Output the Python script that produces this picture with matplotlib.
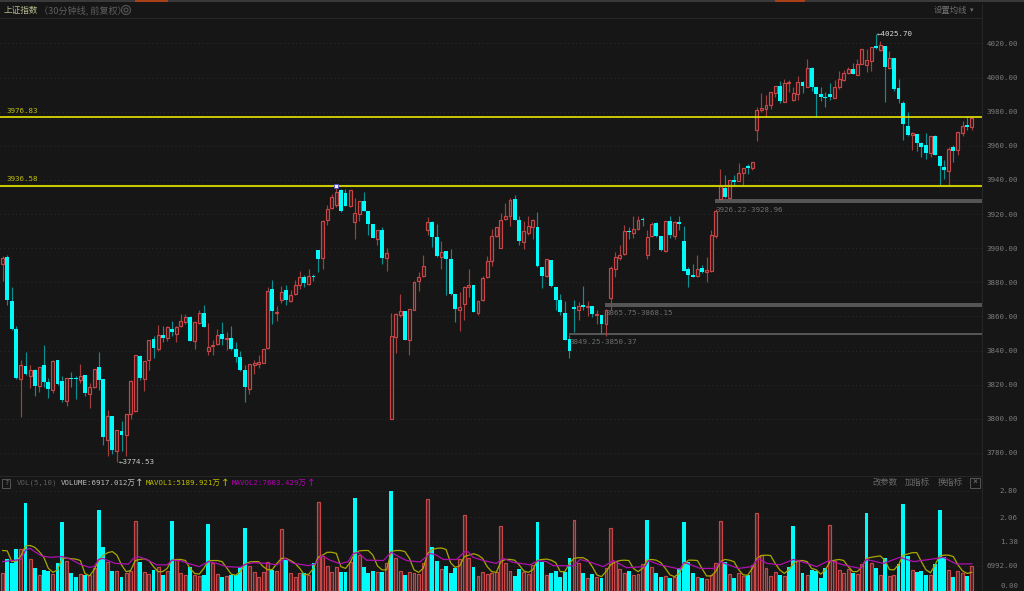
import matplotlib
matplotlib.use('Agg')
import matplotlib.pyplot as plt
import matplotlib.patches as mpatches
import numpy as np

# candle data, 30 minute bars
candle_dir = ('rcccrcrcrc' 'crccrccrcr' 'rccrcrcrrr' 'crrcrcrcrr'
              'rcrrcrrrcr' 'ccccrrrrrc' 'rrcrrrcrcc' 'rrrrccrrrc'
              'ccrcrrrrcr' 'rrrrccrccc' 'rrrcrrrrrr' 'rrccrrrccr'
              'ccccccrcrc' 'rcrrrrrcrr' 'crrccrcrcc' 'ccrcrrrrcr'
              'crrcrrrrrr' 'crrrrcrccc' 'ccrrrrcrrr' 'rcrcrccccr'
              'cccrcccrcr' 'rcr')
body_hi = [3894.0, 3895.0, 3869.2, 3852.6, 3831.7, 3830.7, 3828.8, 3828.8, 3830.5, 3831.5,
           3821.4, 3834.1, 3834.3, 3822.0, 3823.7, 3823.7, 3823.7, 3825.3, 3825.5, 3818.8,
           3829.0, 3830.4, 3823.1, 3801.4, 3801.4, 3793.6, 3792.7, 3803.0, 3822.2, 3837.2,
           3837.0, 3834.1, 3846.2, 3846.6, 3848.9, 3848.9, 3854.0, 3852.8, 3854.0, 3857.1,
           3859.8, 3859.8, 3856.5, 3862.2, 3862.2, 3842.3, 3843.2, 3849.3, 3849.5, 3847.5,
           3847.5, 3841.1, 3836.4, 3828.4, 3831.9, 3832.7, 3833.3, 3841.1, 3875.1, 3875.9,
           3862.8, 3874.5, 3875.5, 3872.7, 3878.6, 3883.3, 3882.9, 3883.7, 3883.9, 3898.9,
           3916.1, 3922.9, 3930.3, 3932.7, 3934.3, 3932.3, 3934.1, 3920.6, 3927.6, 3927.4,
           3921.8, 3914.1, 3910.8, 3910.8, 3897.1, 3848.7, 3861.2, 3863.2, 3863.0, 3864.2,
           3880.2, 3883.1, 3889.3, 3915.5, 3915.5, 3906.5, 3897.5, 3898.1, 3893.6, 3872.9,
           3865.5, 3877.2, 3878.2, 3878.6, 3869.0, 3882.5, 3892.3, 3907.3, 3912.2, 3916.5,
           3919.0, 3928.2, 3928.8, 3916.3, 3909.8, 3913.0, 3916.5, 3912.2, 3888.9, 3893.6,
           3893.2, 3877.4, 3869.6, 3862.0, 3846.8, 3865.3, 3866.1, 3866.7, 3866.1, 3866.3,
           3861.6, 3861.0, 3863.8, 3888.4, 3894.8, 3896.0, 3910.2, 3909.8, 3911.2, 3916.3,
           3916.9, 3906.5, 3914.3, 3914.7, 3907.3, 3915.9, 3915.9, 3915.3, 3915.3, 3904.2,
           3887.6, 3884.3, 3888.0, 3888.2, 3887.0, 3907.7, 3922.1, 3936.2, 3935.4, 3939.9,
           3939.9, 3944.0, 3946.9, 3947.9, 3950.4, 3981.1, 3982.0, 3984.0, 3991.4, 3995.1,
           3995.1, 3997.1, 3997.5, 3990.8, 3997.3, 3997.5, 4005.7, 4005.7, 3994.5, 3990.4,
           3988.7, 3990.4, 3994.5, 3999.0, 4002.7, 4004.9, 4004.9, 4008.0, 4016.6, 4010.4,
           4017.8, 4018.5, 4018.9, 4018.5, 4011.5, 4011.5, 3993.8, 3985.0, 3971.7, 3967.6,
           3966.8, 3961.6, 3960.2, 3965.9, 3965.9, 3954.1, 3947.7, 3958.0, 3959.4, 3968.4,
           3971.5, 3972.3, 3976.6]
body_lo = [3890.7, 3869.4, 3852.6, 3823.7, 3823.5, 3826.2, 3825.1, 3819.0, 3819.2, 3821.4,
           3817.3, 3817.1, 3820.6, 3810.8, 3810.4, 3823.1, 3823.1, 3822.9, 3815.1, 3814.7,
           3818.6, 3822.7, 3789.3, 3787.8, 3781.9, 3781.1, 3790.3, 3790.5, 3803.0, 3804.4,
           3823.9, 3823.5, 3834.5, 3841.3, 3840.7, 3847.3, 3847.3, 3850.7, 3849.9, 3854.2,
           3856.9, 3845.8, 3845.6, 3856.1, 3853.8, 3839.7, 3842.6, 3843.8, 3846.8, 3846.9,
           3840.9, 3836.2, 3828.4, 3818.8, 3817.7, 3831.3, 3832.3, 3832.7, 3841.3, 3863.0,
           3862.2, 3869.4, 3869.8, 3869.0, 3873.1, 3878.6, 3879.6, 3879.0, 3883.1, 3893.8,
           3894.0, 3916.5, 3923.3, 3925.3, 3921.6, 3924.9, 3924.5, 3915.1, 3920.2, 3921.8,
           3914.0, 3905.9, 3905.5, 3894.4, 3894.2, 3799.9, 3847.7, 3861.0, 3846.4, 3846.0,
           3864.0, 3880.6, 3883.5, 3910.4, 3906.7, 3895.4, 3894.8, 3893.6, 3872.9, 3864.3,
           3863.6, 3867.1, 3877.0, 3862.6, 3862.2, 3869.4, 3883.1, 3892.3, 3906.9, 3900.3,
           3916.9, 3919.0, 3916.5, 3904.4, 3903.6, 3908.9, 3912.2, 3889.3, 3883.7, 3883.5,
           3877.6, 3869.8, 3862.6, 3846.4, 3839.9, 3864.5, 3864.0, 3865.7, 3865.5, 3861.4,
           3861.0, 3855.8, 3855.4, 3870.6, 3887.8, 3894.0, 3896.4, 3909.3, 3908.9, 3911.2,
           3916.3, 3895.8, 3906.9, 3906.9, 3898.7, 3898.1, 3907.9, 3907.1, 3914.0, 3886.8,
           3884.3, 3883.1, 3883.7, 3885.8, 3885.8, 3886.4, 3907.3, 3929.0, 3930.2, 3929.2,
           3939.1, 3939.5, 3944.0, 3947.3, 3947.1, 3969.2, 3981.1, 3981.4, 3984.2, 3991.2,
           3986.3, 3985.9, 3996.9, 3986.7, 3990.6, 3995.1, 3994.7, 3994.7, 3990.4, 3988.7,
           3988.1, 3988.7, 3988.3, 3994.7, 3998.6, 4002.7, 4002.3, 4001.8, 4008.2, 4007.6,
           4010.0, 4017.4, 4016.2, 4006.4, 4005.7, 3993.6, 3987.3, 3972.7, 3966.4, 3966.2,
           3961.8, 3959.6, 3955.9, 3955.7, 3954.9, 3948.3, 3945.8, 3945.0, 3957.1, 3957.3,
           3967.8, 3971.3, 3971.3]
highs = [3895.2, 3896.2, 3877.0, 3854.2, 3834.7, 3839.0, 3831.7, 3829.2, 3830.5, 3843.4,
         3823.9, 3834.7, 3834.3, 3825.3, 3824.1, 3827.6, 3824.9, 3832.1, 3825.9, 3821.0,
         3829.4, 3839.0, 3823.5, 3805.4, 3801.4, 3793.6, 3798.5, 3803.0, 3822.9, 3837.6,
         3837.2, 3834.1, 3846.4, 3848.3, 3855.2, 3854.6, 3854.6, 3857.3, 3854.6, 3861.4,
         3861.6, 3860.4, 3857.1, 3864.0, 3866.5, 3856.1, 3846.4, 3852.6, 3856.9, 3850.7,
         3854.2, 3845.0, 3839.5, 3831.3, 3832.3, 3834.7, 3837.6, 3841.1, 3877.2, 3881.5,
         3865.9, 3878.0, 3878.2, 3875.3, 3881.5, 3886.4, 3884.3, 3888.0, 3885.0, 3899.1,
         3916.3, 3925.5, 3932.0, 3936.6, 3934.7, 3934.7, 3934.3, 3929.4, 3927.6, 3932.9,
         3921.8, 3914.1, 3910.8, 3912.6, 3900.1, 3862.0, 3862.0, 3873.3, 3863.4, 3864.2,
         3880.6, 3885.8, 3896.2, 3918.2, 3915.9, 3914.3, 3904.0, 3898.5, 3899.7, 3872.9,
         3874.1, 3877.6, 3887.8, 3878.6, 3869.4, 3883.9, 3895.2, 3911.2, 3912.2, 3920.6,
         3926.4, 3929.4, 3931.3, 3918.6, 3915.7, 3919.0, 3917.1, 3921.2, 3888.9, 3893.8,
         3893.2, 3877.4, 3873.3, 3869.2, 3849.3, 3869.4, 3868.2, 3878.0, 3868.8, 3866.3,
         3863.6, 3861.0, 3864.3, 3889.7, 3897.7, 3902.0, 3913.8, 3912.4, 3918.6, 3919.0,
         3918.2, 3910.8, 3915.1, 3915.1, 3907.3, 3915.9, 3919.0, 3915.7, 3918.6, 3913.0,
         3888.8, 3890.7, 3895.8, 3890.1, 3895.0, 3910.6, 3922.7, 3946.3, 3943.0, 3940.1,
         3943.0, 3949.9, 3947.3, 3949.5, 3950.4, 3983.0, 3990.8, 3989.8, 3991.8, 3995.1,
         3998.2, 3999.0, 3998.6, 3994.7, 4001.0, 3998.2, 4010.7, 4006.1, 3994.5, 3994.3,
         3991.6, 3997.1, 3998.6, 4004.1, 4004.5, 4006.1, 4008.4, 4010.7, 4016.8, 4016.6,
         4017.8, 4025.7, 4021.5, 4018.5, 4015.6, 4011.5, 3999.2, 3986.0, 3980.1, 3968.4,
         3967.0, 3962.0, 3967.4, 3966.0, 3966.2, 3954.1, 3951.8, 3959.2, 3960.6, 3968.4,
         3974.4, 3977.6, 3977.2]
lows = [3880.5, 3866.5, 3852.2, 3823.3, 3801.0, 3825.5, 3818.0, 3813.2, 3815.9, 3818.4,
        3812.2, 3815.1, 3820.0, 3809.6, 3807.7, 3818.6, 3811.6, 3821.0, 3813.2, 3806.3,
        3818.0, 3816.7, 3784.9, 3778.0, 3779.6, 3774.7, 3781.0, 3778.4, 3799.9, 3803.8,
        3822.5, 3816.1, 3828.8, 3835.8, 3839.5, 3844.8, 3845.8, 3848.3, 3844.8, 3853.8,
        3855.8, 3845.4, 3840.9, 3855.8, 3853.6, 3837.4, 3837.4, 3843.4, 3843.2, 3840.5,
        3840.5, 3833.1, 3828.2, 3809.9, 3814.7, 3826.2, 3829.8, 3832.7, 3840.9, 3855.4,
        3857.5, 3867.9, 3866.5, 3868.2, 3872.7, 3876.3, 3877.2, 3878.6, 3880.5, 3886.0,
        3887.8, 3913.7, 3922.9, 3924.0, 3921.2, 3924.5, 3924.1, 3905.4, 3915.7, 3921.6,
        3907.9, 3905.7, 3901.6, 3890.5, 3886.4, 3799.9, 3838.6, 3859.7, 3846.0, 3837.2,
        3863.6, 3874.7, 3883.1, 3907.9, 3901.0, 3894.8, 3887.8, 3872.7, 3872.5, 3856.7,
        3851.3, 3857.7, 3871.4, 3862.4, 3860.6, 3869.0, 3882.7, 3889.3, 3906.5, 3899.9,
        3916.3, 3912.8, 3916.3, 3902.0, 3899.5, 3907.9, 3905.4, 3888.9, 3876.4, 3882.9,
        3877.2, 3864.0, 3861.0, 3846.0, 3835.6, 3851.1, 3858.1, 3864.0, 3860.4, 3859.7,
        3855.8, 3849.9, 3848.3, 3864.0, 3883.1, 3893.2, 3896.2, 3905.4, 3906.1, 3910.8,
        3913.2, 3893.6, 3906.5, 3906.5, 3898.3, 3897.9, 3905.9, 3905.4, 3910.4, 3886.8,
        3877.4, 3882.9, 3883.3, 3885.2, 3880.4, 3886.2, 3906.1, 3928.8, 3929.6, 3929.0,
        3937.2, 3939.3, 3937.2, 3943.6, 3945.6, 3963.1, 3980.1, 3976.8, 3981.4, 3988.5,
        3985.0, 3985.7, 3991.6, 3986.3, 3986.9, 3990.8, 3994.5, 3992.4, 3976.8, 3986.3,
        3983.0, 3986.9, 3987.9, 3993.2, 3998.0, 4002.0, 4002.0, 4001.6, 4008.0, 4003.5,
        4003.9, 4016.6, 4015.8, 3985.4, 4005.3, 3992.4, 3985.0, 3963.5, 3966.0, 3957.7,
        3957.1, 3953.4, 3952.2, 3953.4, 3954.7, 3936.8, 3940.7, 3936.8, 3950.8, 3954.7,
        3966.0, 3969.4, 3969.4]

# volume in 亿
volumes = [0.51, 0.88, 0.77, 1.18, 1.17, 2.45, 0.88, 0.65, 0.44, 0.59,
           0.56, 0.47, 0.77, 1.93, 0.85, 0.49, 0.40, 0.47, 0.44, 0.44,
           0.63, 2.25, 1.24, 0.80, 0.56, 0.55, 0.40, 0.50, 0.57, 1.94,
           0.82, 0.52, 0.47, 0.59, 0.68, 0.46, 0.56, 1.95, 0.86, 0.51,
           0.44, 0.66, 0.44, 0.43, 0.45, 1.86, 0.79, 0.47, 0.38, 0.42,
           0.44, 0.44, 0.68, 1.76, 0.71, 0.52, 0.39, 0.53, 0.80, 0.59,
           0.55, 1.73, 0.86, 0.49, 0.38, 0.51, 0.49, 0.44, 0.79, 2.47,
           0.98, 0.70, 0.53, 0.66, 0.53, 0.53, 0.81, 2.59, 1.00, 0.66,
           0.51, 0.55, 0.53, 0.54, 0.77, 2.80, 0.92, 0.57, 0.44, 0.54,
           0.51, 0.47, 0.77, 2.56, 1.22, 0.85, 0.60, 0.71, 0.51, 0.65,
           0.88, 2.11, 0.91, 0.66, 0.41, 0.52, 0.48, 0.50, 0.53, 1.80,
           0.77, 0.57, 0.42, 0.61, 0.52, 0.47, 0.73, 1.93, 0.82, 0.45,
           0.49, 0.57, 0.39, 0.54, 0.92, 1.97, 0.77, 0.51, 0.35, 0.47,
           0.38, 0.36, 0.63, 1.75, 0.85, 0.62, 0.51, 0.55, 0.44, 0.47,
           0.74, 1.99, 0.66, 0.51, 0.39, 0.41, 0.35, 0.40, 0.65, 1.93,
           0.80, 0.49, 0.38, 0.37, 0.33, 0.44, 0.79, 1.94, 0.81, 0.47,
           0.35, 0.49, 0.43, 0.44, 0.72, 2.17, 1.00, 0.65, 0.41, 0.52,
           0.45, 0.42, 0.68, 1.80, 0.85, 0.49, 0.46, 0.58, 0.57, 0.37,
           0.65, 1.83, 0.83, 0.59, 0.49, 0.60, 0.49, 0.47, 0.74, 2.19,
           0.78, 0.65, 0.45, 0.92, 0.41, 0.44, 0.74, 2.42, 0.99, 0.59,
           0.53, 0.55, 0.45, 0.44, 0.74, 2.25, 0.96, 0.59, 0.39, 0.55,
           0.49, 0.43, 0.69]
# bars whose volume colour differs from the candle colour
vol_flip = [45, 69, 77, 85, 125, 140, 141, 172, 173, 181, 189, 195]

mavol1 = [1.13, 1.12, 0.82, 0.84, 0.98, 1.26, 1.27, 1.22, 1.10, 0.94,
          0.63, 0.52, 0.59, 0.91, 0.92, 0.90, 0.89, 0.85, 0.49, 0.42,
          0.59, 0.85, 1.00, 1.07, 1.10, 1.00, 0.73, 0.54, 0.57, 0.85,
          0.88, 0.90, 0.85, 0.68, 0.54, 0.54, 0.63, 0.86, 0.88, 0.88,
          0.85, 0.63, 0.49, 0.47, 0.63, 0.84, 0.85, 0.85, 0.82, 0.65,
          0.47, 0.44, 0.54, 0.75, 0.81, 0.82, 0.82, 0.68, 0.59, 0.60,
          0.77, 0.91, 0.91, 0.85, 0.77, 0.63, 0.45, 0.47, 0.63, 0.94,
          1.00, 1.08, 1.08, 1.05, 0.68, 0.63, 0.79, 1.05, 1.12, 1.13,
          1.13, 1.00, 0.70, 0.59, 0.59, 1.10, 1.13, 1.13, 1.10, 0.91,
          0.59, 0.52, 0.63, 1.05, 1.16, 1.19, 1.20, 1.16, 0.79, 0.66,
          0.70, 0.96, 1.00, 1.04, 1.00, 0.91, 0.68, 0.54, 0.52, 0.82,
          0.88, 0.88, 0.86, 0.73, 0.56, 0.52, 0.59, 0.86, 0.88, 0.89,
          0.86, 0.79, 0.54, 0.54, 0.77, 0.91, 0.93, 0.93, 0.86, 0.68,
          0.45, 0.40, 0.54, 0.73, 0.81, 0.85, 0.86, 0.85, 0.63, 0.54,
          0.63, 0.86, 0.88, 0.86, 0.79, 0.63, 0.45, 0.40, 0.49, 0.73,
          0.86, 0.86, 0.85, 0.63, 0.42, 0.42, 0.54, 0.82, 0.88, 0.86,
          0.82, 0.60, 0.45, 0.44, 0.63, 0.91, 0.99, 1.00, 0.99, 0.77,
          0.59, 0.49, 0.59, 0.77, 0.85, 0.85, 0.82, 0.63, 0.59, 0.47,
          0.59, 0.82, 0.86, 0.88, 0.85, 0.68, 0.54, 0.54, 0.68, 0.91,
          0.94, 0.96, 0.98, 0.86, 0.60, 0.59, 0.73, 1.00, 1.03, 1.07,
          1.07, 0.82, 0.59, 0.51, 0.73, 0.98, 1.00, 1.00, 0.96, 0.73,
          0.56, 0.49, 0.52]
mavol2_bar = [0, 4, 5, 6, 7, 8.5, 10.4, 13, 15, 17, 19, 20, 21, 22, 23, 24.6, 27.5, 28.6, 29.7,
              31.5, 33.7, 36, 37, 38.8, 40.6, 43, 45, 46.8, 49, 52, 53, 54.8, 57.8, 60, 61.8,
              63.6, 66.9, 68.3, 69.8, 71.6, 73.8, 75.6, 76.7, 77.8, 79.6, 83.3, 85, 86.6, 88.4,
              91.3, 93.5, 94.9, 96.4, 99.3, 101.1, 101.9, 102.9, 105.2, 108, 109.5, 111.7, 115.4,
              117.2, 119, 120.4, 124.9, 126.3, 128.2, 131.4, 133.6, 136.5, 140.5, 141.3, 143.8,
              148.2, 149, 150.4, 152.6, 155.9, 157, 158.8, 161, 163.9, 165.3, 167.2, 170.1, 173,
              174.8, 178.1, 180.8, 183.9, 187.6, 189, 192.7, 196.3, 199.3, 204.4, 205.8, 208.7, 212]
mavol2 = [0.82, 0.88, 1.14, 1.19, 1.10, 0.98, 0.94, 0.96, 0.88, 0.74, 0.66, 0.68, 0.88, 0.91, 0.85,
          0.77, 0.75, 0.91, 0.96, 0.88, 0.73, 0.73, 0.86, 0.85, 0.77, 0.68, 0.82, 0.77, 0.68, 0.66,
          0.74, 0.79, 0.77, 0.73, 0.91, 0.77, 0.71, 0.75, 0.99, 0.86, 0.76, 0.82, 1.05, 1.07, 0.86,
          0.85, 1.08, 0.96, 0.85, 0.81, 1.05, 1.00, 0.88, 0.88, 1.10, 1.09, 0.94, 0.85, 0.77, 0.91,
          0.80, 0.73, 0.85, 0.82, 0.71, 0.70, 0.88, 0.82, 0.68, 0.85, 0.65, 0.68, 0.85, 0.73, 0.61,
          0.80, 0.74, 0.63, 0.63, 0.82, 0.73, 0.63, 0.68, 0.91, 0.77, 0.73, 0.88, 0.82, 0.68, 0.85,
          0.73, 0.63, 0.88, 0.77, 0.94, 0.82, 0.91, 0.94, 0.75, 0.76]

price_ticks = [4020, 4000, 3980, 3960, 3940, 3920, 3900, 3880, 3860, 3840, 3820, 3800, 3780]
price_labels = ['%.2f' % p for p in price_ticks]
vol_ticks = [2.80, 2.06, 1.38, 0.6992]
vol_labels = ['2.80', '2.06', '1.38', '6992.00']
resistance = [3976.83, 3936.58]
gaps = [(3926.22, 3928.96, 156), (3865.75, 3868.15, 132), (3849.25, 3850.37, 124)]

BG = '#161616'
RED = '#c84648'
RED_WICK = '#a03e40'
RED_FILL = '#2c1c1c'
CYAN = '#00fbfb'
CYAN_WICK = '#0b8f90'
GRID = '#2b2b2b'
MONO = ['DejaVu Sans Mono', 'Noto Sans CJK SC']
CJK = ['Noto Sans CJK SC', 'DejaVu Sans']

W, H = 1024, 591
fig = plt.figure(figsize=(W / 100, H / 100), dpi=100, facecolor=BG)


def px_axes(x0, y0, x1, y1):
    # axes box given in image pixels, y measured from the top
    return fig.add_axes([x0 / W, 1 - y1 / H, (x1 - x0) / W, (y1 - y0) / H], facecolor=BG)


ax = px_axes(0, 24, 981.7, 475)
vax = px_axes(0, 476, 981.7, 591)
for a in (ax, vax):
    a.set_xlim(-0.584, 214.2)
    for s in a.spines.values():
        s.set_visible(False)
    a.set_xticks([])
    a.yaxis.tick_right()
    a.tick_params(axis='y', length=0, pad=26, labelcolor='#7a7a7a')
    a.grid(axis='y', color=GRID, lw=0.7, ls=(0, (1, 3)))
    a.set_axisbelow(True)

ax.set_ylim(3767.1, 4031.4)
ax.set_yticks(price_ticks)
ax.set_yticklabels(price_labels, family='DejaVu Sans Mono', fontsize=5.4, ha='right')
vax.set_ylim(0, 3.209)
vax.set_yticks(vol_ticks)
vax.set_yticklabels(vol_labels, family='DejaVu Sans Mono', fontsize=5.4, ha='right')
vax.text(1.037, 0.04, '0.00', transform=vax.transAxes, family='DejaVu Sans Mono', fontsize=5.4,
         color='#7a7a7a', ha='right', va='center', clip_on=False)

n = len(highs)
x = np.arange(n)
is_up = np.array([d == 'r' for d in candle_dir])
body_hi = np.array(body_hi)
body_lo = np.array(body_lo)
volumes = np.array(volumes)

# gap zones and the two yellow levels
for lo, hi, start in gaps:
    ax.fill_between([start - 0.2, 214.2], lo, hi, color='#555555', lw=0, zorder=1.5)
    ax.text(start - 0.1, lo - 2.2, '%.2f-%.2f' % (lo, hi), family='DejaVu Sans Mono', fontsize=5.4,
            color='#6f6f6f', va='top', ha='left', zorder=5)

ax.vlines(x[is_up], np.array(lows)[is_up], np.array(highs)[is_up], color=RED_WICK, lw=0.85, zorder=2)
ax.vlines(x[~is_up], np.array(lows)[~is_up], np.array(highs)[~is_up], color=CYAN_WICK, lw=0.85, zorder=2)
ax.bar(x[is_up], body_hi[is_up] - body_lo[is_up], 0.64, bottom=body_lo[is_up], facecolor=RED_FILL,
       edgecolor=RED, lw=0.85, zorder=3)
ax.bar(x[~is_up], np.maximum(body_hi[~is_up] - body_lo[~is_up], 0.7), 0.84, bottom=body_lo[~is_up],
       color=CYAN, lw=0, zorder=3)

ax.axhline(resistance[0], color='#e6e600', lw=1.2, zorder=4)
ax.axhline(resistance[1], color='#c9c900', lw=1.5, zorder=4)
for lv in resistance:
    ax.text(0.8, lv + 2.0, '%.2f' % lv, family='DejaVu Sans Mono', fontsize=5.4, color='#bdbd10', va='bottom')

# high / low notes
ax.plot([73], [3936.6], marker='s', ms=2.6, mfc='#f0f0f0', mec='#4a4ad0', mew=0.6, zorder=6)
ax.text(25.5, 3774.53, '←3774.53', family='DejaVu Sans Mono', fontsize=5.4, color='#c8c8c8', va='center')
ax.text(191.3, 4025.7, '←4025.70', family='DejaVu Sans Mono', fontsize=5.4, color='#d8d8d8', va='center')

# volume panel
vol_up = is_up.copy()
vol_up[vol_flip] = ~vol_up[vol_flip]
vax.bar(x[vol_up], volumes[vol_up], 0.64, facecolor='#4a2626', edgecolor=RED, lw=0.85, zorder=2)
vax.bar(x[~vol_up], volumes[~vol_up], 0.84, color=CYAN, lw=0, zorder=2)
vax.plot(x, mavol1, color='#a8a800', lw=0.9, zorder=3)
vax.plot(mavol2_bar, mavol2, color='#b010b0', lw=0.9, zorder=4)


def label(px, py, s, color, fam=MONO, size=5.3, ha='left'):
    fig.text(px / W, 1 - py / H, s, color=color, family=fam, fontsize=size, va='center', ha=ha)


# header
label(4, 10, '上证指数', '#b9b98e', CJK, 6.2)
label(39, 10, '（30分钟线, 前复权）', '#5e5e5e', CJK, 6.6)
for dia in (9, 4):
    fig.add_artist(mpatches.Ellipse((126 / W, 1 - 10 / H), dia / W, dia / H, transform=fig.transFigure,
                                    fill=False, ec='#555555', lw=0.8))
label(934, 10, '设置均线', '#6e6e6e', CJK, 6.0)
label(970, 10, '▾', '#6e6e6e', ['DejaVu Sans'], 5)

# volume legend row
fig.add_artist(mpatches.Rectangle((2 / W, 1 - 487.5 / H), 8 / W, 9 / H, transform=fig.transFigure, fill=False, ec='#555555', lw=0.7))
label(6, 483, '?', '#777777', size=5, ha='center')
label(17, 482.5, 'VOL(5,10)', '#5f5f5f')
label(61, 482.5, 'VOLUME:6917.012万', '#bcbcbc')
label(139, 482.5, '↑', '#bcbcbc', ['DejaVu Sans'], 7.5, 'center')
label(146, 482.5, 'MAVOL1:5189.921万', '#bcbc00')
label(225, 482.5, '↑', '#bcbc00', ['DejaVu Sans'], 7.5, 'center')
label(232, 482.5, 'MAVOL2:7603.429万', '#b800b8')
label(311, 482.5, '↑', '#b800b8', ['DejaVu Sans'], 7.5, 'center')
label(873, 482.5, '改参数', '#6a6a6a', CJK, 6.0)
label(905, 482.5, '加指标', '#6a6a6a', CJK, 6.0)
label(938, 482.5, '换指标', '#6a6a6a', CJK, 6.0)
fig.add_artist(mpatches.Rectangle((969.5 / W, 1 - 487.5 / H), 10 / W, 10 / H, transform=fig.transFigure, fill=False, ec='#555555', lw=0.7))
label(974.5, 482.5, '×', '#777777', size=6, ha='center')

# frame lines and top strip
for y0 in (17.5, 475.5):
    fig.add_artist(plt.Line2D([0, 981.7 / W], [1 - y0 / H] * 2, color='#262626', lw=0.8))
fig.add_artist(plt.Line2D([981.7 / W] * 2, [0, 1 - 4 / H], color='#262626', lw=0.8))
fig.add_artist(mpatches.Rectangle((0, 1 - 1.5 / H), 1, 1.5 / H, transform=fig.transFigure, color='#3a3a3a', lw=0))
for a0, a1 in ((135, 168), (775, 805)):
    fig.add_artist(mpatches.Rectangle((a0 / W, 1 - 1.5 / H), (a1 - a0) / W, 1.5 / H, transform=fig.transFigure, color='#a8401a', lw=0))

fig.savefig('out.png', dpi=100, facecolor=BG)
